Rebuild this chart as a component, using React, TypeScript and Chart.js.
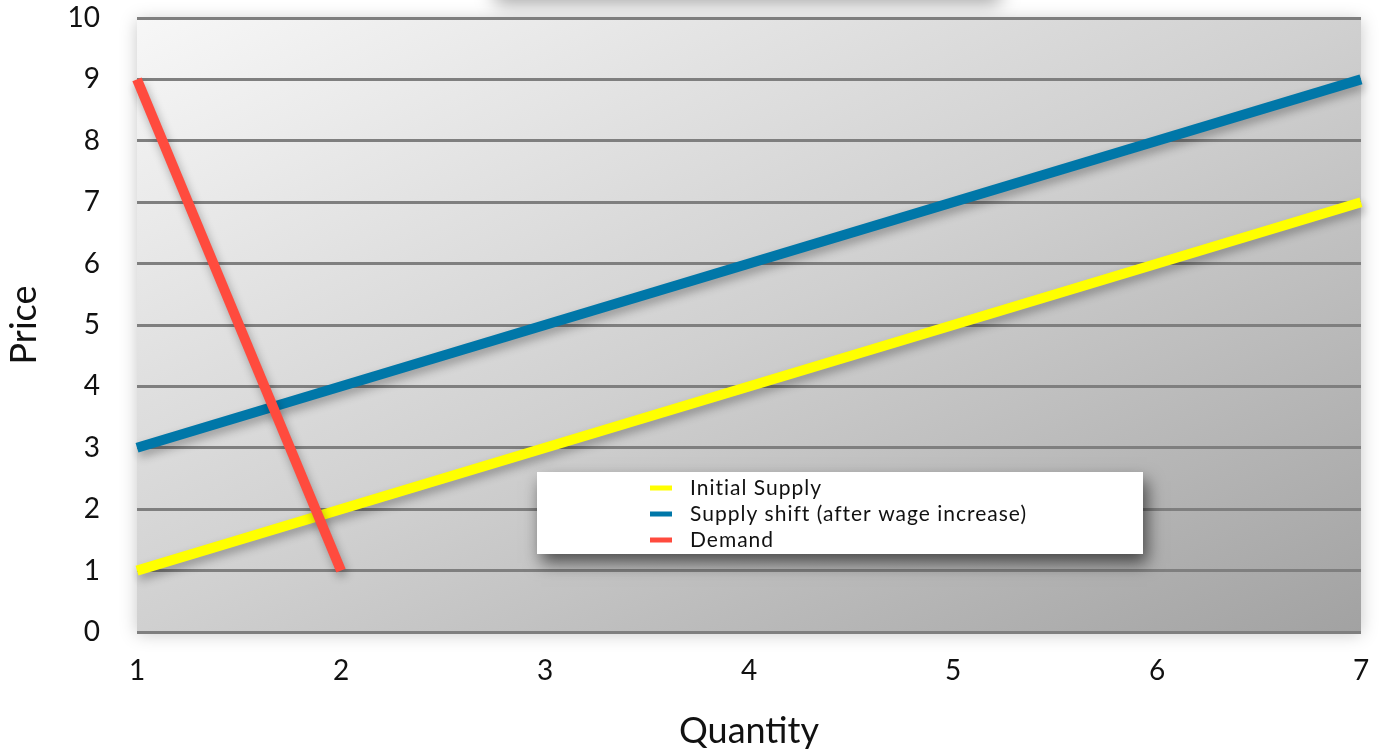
import { useEffect, useRef } from "react";
import { Chart, registerables } from "chart.js";

Chart.register(...registerables);

// ---- data ----
const supplyQuantity = [1, 7];
const initialSupply = [1, 7];
const shiftedSupply = [3, 9];
const demandQuantity = [1, 2];
const demandPrice = [9, 1];
const seriesLabels = ["Initial Supply", "Supply shift (after wage increase)", "Demand"];
const seriesColors = ["#ffff00", "#0077a8", "#ff4b3e"];
const xRange = [1, 7];
const yRange = [0, 10];
const axisTitles = ["Quantity", "Price"];

const FONT = "Lato, 'Noto Sans', sans-serif";

const toPoints = (xs: number[], ys: number[]) => xs.map((x, i) => ({ x, y: ys[i] }));

const decorPlugin = {
  id: "decor",
  beforeDraw(chart: any) {
    const { ctx, chartArea } = chart;
    const { left, top, right, bottom } = chartArea;
    ctx.save();
    // shadow of an off-page title box
    ctx.shadowColor = "rgba(0,0,0,0.35)";
    ctx.shadowBlur = 18;
    ctx.shadowOffsetY = 4;
    ctx.fillStyle = "#ffffff";
    ctx.fillRect(495, -60, 505, 60);
    // plot background with gradient
    const w = right - left;
    const h = bottom - top;
    const cx = left + w / 2;
    const cy = top + h / 2;
    const k = (w * h) / (w * w + h * h);
    const grad = ctx.createLinearGradient(cx - h * k, cy - w * k, cx + h * k, cy + w * k);
    grad.addColorStop(0, "#f7f7f7");
    grad.addColorStop(0.5, "#d0d0d0");
    grad.addColorStop(1, "#a2a2a2");
    ctx.shadowColor = "rgba(0,0,0,0.22)";
    ctx.shadowBlur = 16;
    ctx.shadowOffsetY = 2;
    ctx.fillStyle = grad;
    ctx.fillRect(left, top, w, h);
    ctx.restore();
  },
  beforeDatasetsDraw(chart: any) {
    const { ctx } = chart;
    ctx.save();
    ctx.shadowColor = "rgba(0,0,0,0.3)";
    ctx.shadowBlur = 10;
    ctx.shadowOffsetX = 2;
    ctx.shadowOffsetY = 5;
  },
  afterDatasetsDraw(chart: any) {
    chart.ctx.restore();
  },
  afterDraw(chart: any) {
    const { ctx } = chart;
    const bx = 537, by = 472, bw = 606, bh = 82;
    ctx.save();
    ctx.shadowColor = "rgba(0,0,0,0.6)";
    ctx.shadowBlur = 16;
    ctx.shadowOffsetX = 4;
    ctx.shadowOffsetY = 9;
    ctx.fillStyle = "#ffffff";
    ctx.fillRect(bx, by, bw, bh);
    ctx.restore();
    ctx.save();
    ctx.font = `21px ${FONT}`;
    (ctx as any).letterSpacing = "1px";
    ctx.textBaseline = "middle";
    ctx.textAlign = "left";
    chart.data.datasets.forEach((ds: any, i: number) => {
      const y = 488 + i * 26;
      ctx.fillStyle = ds.borderColor;
      ctx.fillRect(650, y - 2.5, 22, 5);
      ctx.fillStyle = "#111111";
      ctx.fillText(ds.label, 690, y);
    });
    ctx.restore();
  },
};

export default function App() {
  const ref = useRef<HTMLCanvasElement>(null);
  useEffect(() => {
    const chart = new Chart(ref.current!, {
      type: "line",
      data: {
        datasets: [
          {
            label: seriesLabels[0],
            data: toPoints(supplyQuantity, initialSupply),
            borderColor: seriesColors[0],
            backgroundColor: seriesColors[0],
            borderWidth: 10,
            pointRadius: 0,
            order: 3,
            clip: false as any,
          },
          {
            label: seriesLabels[1],
            data: toPoints(supplyQuantity, shiftedSupply),
            borderColor: seriesColors[1],
            backgroundColor: seriesColors[1],
            borderWidth: 10,
            pointRadius: 0,
            order: 2,
            clip: false as any,
          },
          {
            label: seriesLabels[2],
            data: toPoints(demandQuantity, demandPrice),
            borderColor: seriesColors[2],
            backgroundColor: seriesColors[2],
            borderWidth: 10,
            pointRadius: 0,
            order: 1,
            clip: false as any,
          },
        ],
      },
      options: {
        responsive: false,
        animation: false,
        layout: { padding: { top: 18, right: 18, left: 0, bottom: 0 } },
        plugins: { legend: { display: false }, tooltip: { enabled: false } },
        elements: { line: { borderCapStyle: "butt", tension: 0 } },
        scales: {
          x: {
            type: "linear",
            min: xRange[0],
            max: xRange[1],
            afterFit: (s: any) => {
              s.height = 121;
              s.paddingLeft = 0;
              s.paddingRight = 0;
            },
            grid: { display: false, drawTicks: false },
            border: { display: false },
            ticks: {
              stepSize: 1,
              padding: 22,
              color: "#111",
              font: { family: FONT, size: 28 },
            },
            title: {
              display: true,
              text: axisTitles[0],
              color: "#111",
              font: { family: FONT, size: 36 },
              padding: { top: 3, bottom: 0 },
            },
          },
          y: {
            min: yRange[0],
            max: yRange[1],
            afterFit: (s: any) => {
              s.width = 137;
              s.paddingTop = 0;
              s.paddingBottom = 0;
            },
            grid: { color: "#7f7f7f", lineWidth: 3, drawTicks: false },
            border: { display: false },
            ticks: {
              stepSize: 1,
              padding: 37,
              color: "#111",
              font: { family: FONT, size: 28 },
            },
            title: {
              display: true,
              text: axisTitles[1],
              color: "#111",
              font: { family: FONT, size: 36 },
              padding: { top: 3, bottom: 0 },
            },
          },
        },
      } as any,
      plugins: [decorPlugin],
    });
    return () => chart.destroy();
  }, []);
  return (
    <div style={{ position: "absolute", left: 0, top: 0, width: 1379, height: 753, background: "#fff" }}>
      <canvas ref={ref} width={1379} height={753} style={{ display: "block", width: 1379, height: 753 }} />
    </div>
  );
}
